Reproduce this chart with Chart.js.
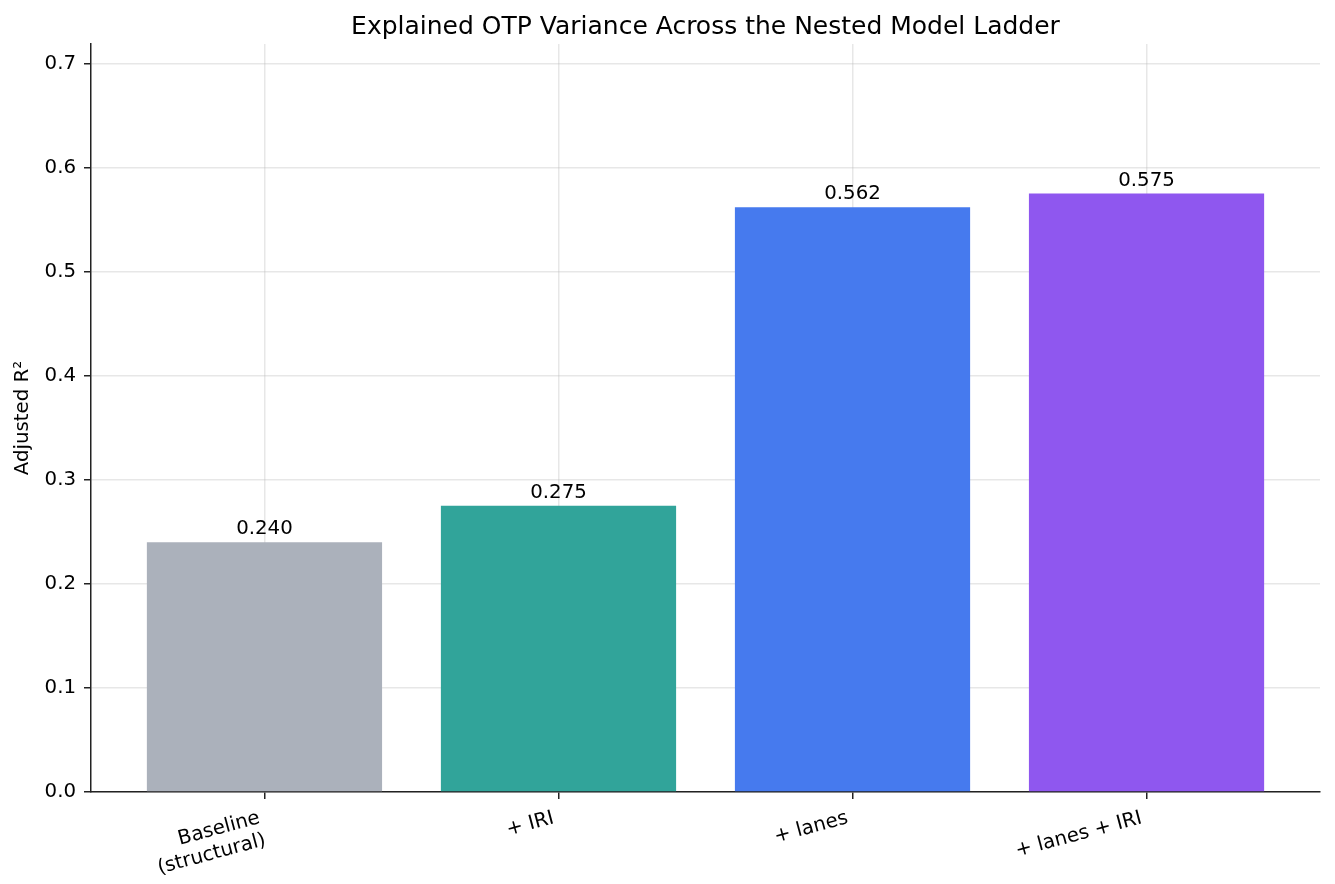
<!DOCTYPE html>
<html>
<head>
<meta charset="utf-8">
<script src="https://cdn.jsdelivr.net/npm/chart.js@4"></script>
<style>
  html, body { margin: 0; padding: 0; background: #fff; }
  #wrap { width: 1335px; height: 884px; }
</style>
</head>
<body>
<div id="wrap"><canvas id="myChart" width="1335" height="884"></canvas></div>
<script>
const categories = [['Baseline', '(structural)'], '+ IRI', '+ lanes', '+ lanes + IRI'];
const r2Values = [0.240, 0.275, 0.562, 0.575];
const valueLabels = ['0.240', '0.275', '0.562', '0.575'];
const barColours = ['#abb1bb', '#31a49a', '#467aee', '#8f57ef'];
const yTicks = [0, 0.1, 0.2, 0.3, 0.4, 0.5, 0.6, 0.7];

const FONT = "'DejaVu Sans', sans-serif";
const gridColour = 'rgba(176,176,176,0.3)';
const axisColour = '#222';

const points = r2Values.map((v, i) => ({ x: i, y: v }));

// value labels above bars + title + y axis label
const annotate = {
    id: 'annotate',
    afterDraw(chart) {
        const ctx = chart.ctx;
        const area = chart.chartArea;
        ctx.save();
        ctx.fillStyle = '#000';
        ctx.textAlign = 'center';

        ctx.font = '19.8px ' + FONT;
        ctx.textBaseline = 'alphabetic';
        chart.getDatasetMeta(0).data.forEach((bar, i) => {
            ctx.fillText(valueLabels[i], bar.x, bar.y - 8);
        });

        ctx.font = '25px ' + FONT;
        ctx.fillText('Explained OTP Variance Across the Nested Model Ladder', (area.left + area.right) / 2, 34);

        ctx.translate(28, (area.top + area.bottom) / 2);
        ctx.rotate(-Math.PI / 2);
        ctx.font = '19.8px ' + FONT;
        ctx.fillText('Adjusted R²', 0, 0);
        ctx.restore();
    }
};

const config = {
    type: 'bar',
    data: {
        datasets: [{
            data: points,
            backgroundColor: barColours,
            borderWidth: 0,
            barPercentage: 0.8,
            categoryPercentage: 1.0
        }]
    },
    options: {
        responsive: false,
        animation: false,
        layout: { padding: { left: 0, right: 15, top: 44, bottom: 0 } },
        plugins: {
            legend: { display: false },
            title: { display: false },
            tooltip: { enabled: false }
        },
        scales: {
            x: {
                type: 'linear',
                min: -0.59,
                max: 3.59,
                offset: false,
                z: 1,
                afterBuildTicks: (scale) => {
                    scale.ticks = categories.map((c, i) => ({ value: i }));
                },
                afterFit: (scale) => { scale.height = 92; },
                grid: {
                    offset: false,
                    color: gridColour,
                    lineWidth: 1.5,
                    tickColor: axisColour,
                    tickLength: 7,
                    drawTicks: true
                },
                border: { color: axisColour, width: 1.5 },
                ticks: {
                    autoSkip: false,
                    minRotation: 15,
                    maxRotation: 15,
                    padding: 8,
                    labelOffset: -5,
                    color: '#000',
                    font: { family: FONT, size: 19.8, lineHeight: 1.15 },
                    callback: (v) => categories[v]
                }
            },
            y: {
                min: 0,
                max: 0.71875,
                z: 1,
                afterBuildTicks: (scale) => {
                    scale.ticks = yTicks.map(v => ({ value: v }));
                },
                afterFit: (scale) => { scale.width = 91; },
                grid: {
                    color: gridColour,
                    lineWidth: 1.5,
                    tickColor: axisColour,
                    tickLength: 7,
                    drawTicks: true
                },
                border: { color: axisColour, width: 1.5 },
                ticks: {
                    padding: 8,
                    color: '#000',
                    font: { family: FONT, size: 19.8 },
                    callback: (v) => v.toFixed(1)
                }
            }
        }
    },
    plugins: [annotate]
};

const myChart = new Chart(
    document.getElementById('myChart'),
    config
);
</script>
</body>
</html>
